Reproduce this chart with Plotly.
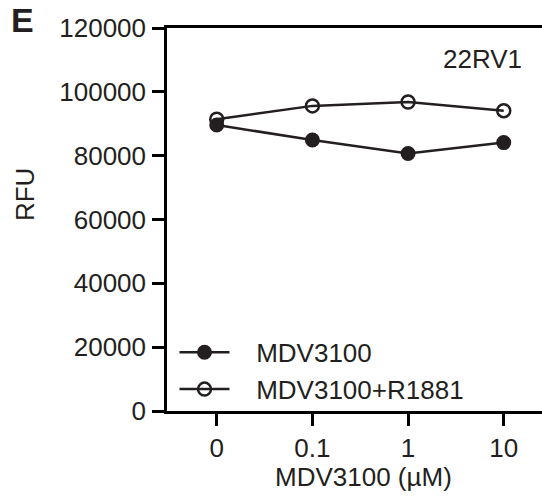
import plotly.graph_objects as go

# MDV3100 dose (uM) categories and fluorescence readings (RFU), 22RV1 cells
doses = ["0", "0.1", "1", "10"]
rfu_mdv = [89600, 84900, 80700, 84100]
rfu_mdv_r1881 = [91400, 95600, 96800, 94100]
y_ticks = [0, 20000, 40000, 60000, 80000, 100000, 120000]

INK = "#231f20"
FONT = "Arial, Liberation Sans, sans-serif"
PAD = "   "  # extra room between legend symbol and label

fig = go.Figure()
fig.add_trace(go.Scatter(
    x=doses, y=rfu_mdv, name=PAD + "MDV3100", mode="lines+markers",
    line=dict(color=INK, width=2.5),
    marker=dict(symbol="circle", size=13, color=INK, line=dict(color=INK, width=2)),
))
fig.add_trace(go.Scatter(
    x=doses, y=rfu_mdv_r1881, name=PAD + "MDV3100+R1881", mode="lines+markers",
    line=dict(color=INK, width=2.5),
    marker=dict(symbol="circle-open", size=13, color=INK, line=dict(color=INK, width=2.5)),
))

fig.update_layout(
    width=542, height=497,
    margin=dict(l=167, r=0, t=28, b=86),
    paper_bgcolor="white", plot_bgcolor="white",
    font=dict(family=FONT, size=26, color=INK),
    showlegend=True,
    legend=dict(
        x=0.02, y=-0.005, xanchor="left", yanchor="bottom",
        bgcolor="rgba(0,0,0,0)", itemwidth=50,
        font=dict(size=26, color=INK), tracegroupgap=0,
    ),
    xaxis=dict(
        type="category", range=[-0.52, 3.40],
        showline=True, linecolor="black", linewidth=2.5, mirror=True,
        ticks="outside", ticklen=12, tickwidth=2.5, tickcolor="black",
        showgrid=False, zeroline=False,
        tickfont=dict(size=26, color=INK),
    ),
    yaxis=dict(
        range=[0, 120000], tickvals=y_ticks, ticktext=[str(v) for v in y_ticks],
        showline=True, linecolor="black", linewidth=2.5,
        ticks="outside", ticklen=12, tickwidth=2.5, tickcolor="black",
        showgrid=False, zeroline=False, ticklabelstandoff=1,
        tickfont=dict(size=26, color=INK),
    ),
    annotations=[
        dict(text="MDV3100 (µM)", xref="paper", yref="paper", x=0.523, y=-0.1735,
             xanchor="center", yanchor="middle", showarrow=False,
             font=dict(size=26, color=INK)),
        dict(text="RFU", xref="paper", yref="paper", x=-0.38, y=0.565,
             xanchor="center", yanchor="middle", textangle=-90, showarrow=False,
             font=dict(size=26, color=INK)),
        dict(text="22RV1", xref="paper", yref="paper", x=0.842, y=0.918,
             xanchor="center", yanchor="middle", showarrow=False,
             font=dict(size=26, color=INK)),
        dict(text="<b>E</b>", xref="paper", yref="paper", x=-0.385, y=1.02,
             xanchor="center", yanchor="middle", showarrow=False,
             font=dict(size=34, color=INK)),
    ],
)

fig.write_html("out.html")
